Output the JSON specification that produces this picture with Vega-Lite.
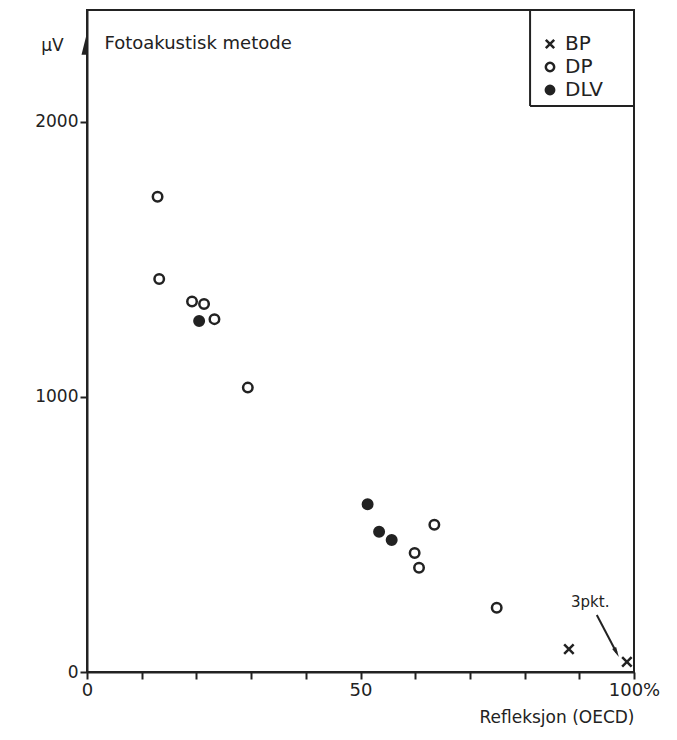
{
  "$schema": "https://vega.github.io/schema/vega-lite/v6.json",
  "width": 547,
  "height": 662,
  "autosize": "none",
  "padding": {"left": 87, "top": 10, "right": 43, "bottom": 68},
  "background": "white",
  "config": {
    "view": {"stroke": "#222", "strokeWidth": 2},
    "font": "DejaVu Sans",
    "axis": {"domainColor": "#222", "domainWidth": 2, "tickColor": "#222", "tickWidth": 2, "labelColor": "#222", "titleColor": "#222", "grid": false}
  },
  "layer": [
    {
      "data": {"values": [
        {"refleksjon": 12.9, "uV": 1728, "type": "DP"},
        {"refleksjon": 13.2, "uV": 1429, "type": "DP"},
        {"refleksjon": 19.2, "uV": 1347, "type": "DP"},
        {"refleksjon": 21.4, "uV": 1338, "type": "DP"},
        {"refleksjon": 23.3, "uV": 1283, "type": "DP"},
        {"refleksjon": 29.4, "uV": 1034, "type": "DP"},
        {"refleksjon": 63.5, "uV": 535, "type": "DP"},
        {"refleksjon": 59.9, "uV": 433, "type": "DP"},
        {"refleksjon": 60.7, "uV": 379, "type": "DP"},
        {"refleksjon": 74.9, "uV": 234, "type": "DP"},
        {"refleksjon": 20.5, "uV": 1276, "type": "DLV"},
        {"refleksjon": 51.3, "uV": 610, "type": "DLV"},
        {"refleksjon": 53.4, "uV": 510, "type": "DLV"},
        {"refleksjon": 55.7, "uV": 480, "type": "DLV"},
        {"refleksjon": 88.1, "uV": 83, "type": "BP"},
        {"refleksjon": 98.7, "uV": 37, "type": "BP"}
      ]},
      "mark": {"type": "point", "strokeWidth": 2.5, "size": 90, "opacity": 1},
      "encoding": {
        "x": {
          "field": "refleksjon", "type": "quantitative",
          "scale": {"domain": [0, 100], "nice": false, "zero": true},
          "axis": {
            "values": [0, 10, 20, 30, 40, 50, 60, 70, 80, 90, 100],
            "labelExpr": "datum.value == 100 ? '100%' : (datum.value % 50 == 0 ? datum.label : '')",
            "labelFontSize": 18, "labelPadding": 2, "tickSize": 7,
            "labelFlush": false,
            "title": "Refleksjon (OECD)", "titleFontSize": 17, "titleFontWeight": "normal",
            "titleAnchor": "end", "titlePadding": 10
          }
        },
        "y": {
          "field": "uV", "type": "quantitative",
          "scale": {"domain": [0, 2407], "nice": false},
          "axis": {
            "values": [0, 1000, 2000], "format": "d",
            "labelFontSize": 17, "labelPadding": 2, "tickSize": 7,
            "title": "μV", "titleAngle": 0, "titleX": -35, "titleY": 35,
            "titleFontSize": 17, "titleFontWeight": "normal", "titleAlign": "center", "titleBaseline": "middle"
          }
        },
        "shape": {
          "field": "type", "type": "nominal",
          "scale": {"domain": ["BP", "DP", "DLV"], "range": ["M-1,-1L1,1M-1,1L1,-1", "circle", "circle"]},
          "legend": {
            "title": null,
            "orient": "none", "legendX": 453, "legendY": 24,
            "padding": 0, "labelFontSize": 20, "labelColor": "#222",
            "symbolSize": 70, "symbolStrokeWidth": 2.5,
            "labelOffset": 5, "rowPadding": 3, "symbolOffset": 0
          }
        },
        "fill": {
          "field": "type", "type": "nominal",
          "scale": {"domain": ["BP", "DP", "DLV"], "range": ["white", "white", "#222"]}
        },
        "stroke": {
          "field": "type", "type": "nominal",
          "scale": {"domain": ["BP", "DP", "DLV"], "range": ["#222", "#222", "#222"]}
        }
      }
    },
    {
      "data": {"values": [{}]},
      "mark": {"type": "rule", "stroke": "#222", "strokeWidth": 2},
      "encoding": {"x": {"datum": 81}, "y": {"datum": 2058}, "y2": {"datum": 2407}}
    },
    {
      "data": {"values": [{}]},
      "mark": {"type": "rule", "stroke": "#222", "strokeWidth": 2},
      "encoding": {"x": {"datum": 81}, "x2": {"datum": 100}, "y": {"datum": 2058}}
    },
    {
      "data": {"values": [{}]},
      "mark": {"type": "text", "text": "Fotoakustisk metode", "align": "left", "baseline": "middle", "fontSize": 18, "color": "#222"},
      "encoding": {"x": {"datum": 3.2}, "y": {"datum": 2285}}
    },
    {
      "data": {"values": [{}]},
      "mark": {"type": "text", "text": "3pkt.", "align": "center", "baseline": "middle", "fontSize": 15, "color": "#222"},
      "encoding": {"x": {"datum": 92}, "y": {"datum": 255}}
    },
    {
      "data": {"values": [{}]},
      "mark": {"type": "rule", "stroke": "#222", "strokeWidth": 2},
      "encoding": {"x": {"datum": 93.2}, "y": {"datum": 207}, "x2": {"datum": 96.8}, "y2": {"datum": 71}}
    },
    {
      "data": {"values": [{}]},
      "mark": {"type": "point", "shape": "M0,-1L0.45,1L-0.45,1Z", "filled": true, "color": "#222", "size": 100, "angle": 152, "opacity": 1},
      "encoding": {"x": {"datum": 96.8}, "y": {"datum": 71}}
    },
    {
      "data": {"values": [{}]},
      "mark": {"type": "point", "shape": "M0,-1L0,1L-0.5,1Z", "filled": true, "color": "#222", "size": 480, "opacity": 1},
      "encoding": {"x": {"datum": 0}, "y": {"datum": 2284}}
    }
  ]
}
